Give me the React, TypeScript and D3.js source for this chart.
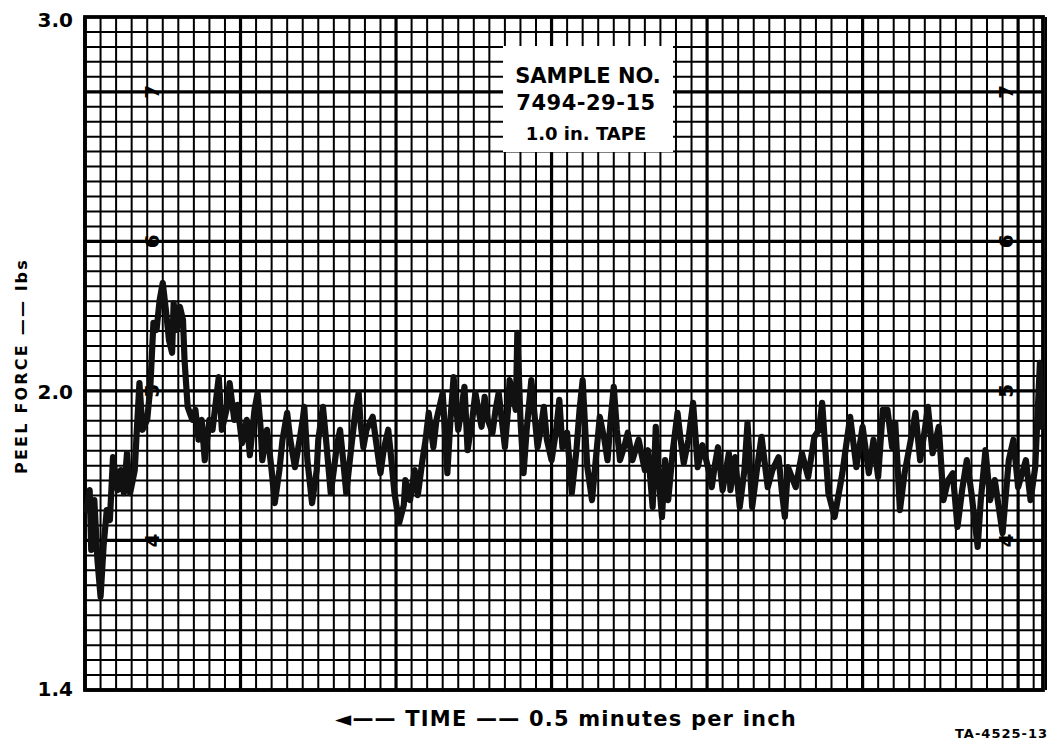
import * as d3 from "d3";
import { ReactElement } from "react";

// chart paper: time in tenths of an inch (0.5 min per inch), force in lbs
const traceTime = [
  0.1, 0.3, 0.4, 0.6, 0.8, 1.0, 1.2, 1.4, 1.6, 1.8,
  2.1, 2.3, 2.5, 2.7, 2.9, 3.2, 3.3, 3.5, 3.7, 4.0,
  4.2, 4.4, 4.6, 4.8, 5.0, 5.2, 5.4, 5.6, 5.7, 5.9,
  6.1, 6.3, 6.4, 6.6, 6.9, 7.1, 7.3, 7.5, 7.7, 8.0,
  8.2, 8.6, 8.8, 9.1, 9.3, 9.6, 9.8, 10.1, 10.4, 10.6,
  10.9, 11.1, 11.3, 11.4, 11.7, 12.0, 12.2, 12.5, 12.7, 13.0,
  13.2, 13.5, 13.8, 14.0, 14.1, 14.3, 14.6, 14.9, 15.0, 15.3,
  15.5, 15.8, 16.0, 16.2, 16.4, 16.6, 16.8, 17.1, 17.4, 17.6,
  17.7, 17.9, 18.1, 18.5, 18.7, 19.0, 19.2, 19.5, 19.7, 19.9,
  20.2, 20.5, 20.6, 20.9, 21.2, 21.4, 21.7, 21.9, 22.1, 22.4,
  22.6, 23.0, 23.3, 23.5, 23.7, 24.0, 24.2, 24.4, 24.6, 24.9,
  25.1, 25.3, 25.5, 25.7, 25.9, 26.2, 26.4, 26.6, 26.8, 27.0,
  27.2, 27.3, 27.7, 27.8, 28.0, 28.2, 28.4, 28.7, 29.1, 29.3,
  29.5, 29.7, 30.0, 30.3, 30.5, 30.7, 31.0, 31.3, 31.6, 31.8,
  32.0, 32.2, 32.3, 32.6, 32.9, 33.1, 33.4, 33.6, 33.8, 34.0,
  34.2, 34.4, 34.7, 34.9, 35.2, 35.6, 35.8, 36.0, 36.2, 36.5,
  36.7, 36.9, 37.1, 37.3, 37.5, 37.8, 38.1, 38.3, 38.5, 38.8,
  39.1, 39.4, 39.7, 39.9, 40.1, 40.3, 40.5, 40.7, 41.0, 41.4,
  41.5, 41.8, 42.1, 42.4, 42.6, 42.9, 43.2, 43.5, 43.9, 44.2,
  44.6, 44.8, 45.0, 45.2, 45.7, 46.1, 46.5, 46.9, 47.2, 47.4,
  47.8, 48.2, 48.7, 48.9, 49.2, 49.6, 50.0, 50.4, 50.7, 51.0,
  51.3, 51.6, 51.9, 52.1, 52.4, 52.7, 53.1, 53.4, 53.7, 54.0,
  54.2, 54.5, 54.9, 55.2, 55.5, 55.8, 56.1, 56.4, 56.7, 57.0,
  57.4, 57.6, 57.9, 58.2, 58.5, 59.0, 59.4, 59.7, 60.0, 60.5,
  60.8, 61.1, 61.4, 61.5,
];

const peelForce = [
  1.761, 1.801, 1.681, 1.781, 1.661, 1.587, 1.691, 1.761, 1.741, 1.867,
  1.801, 1.841, 1.795, 1.875, 1.795, 1.841, 1.902, 2.021, 1.922, 1.942,
  2.011, 2.182, 2.163, 2.243, 2.289, 2.217, 2.136, 2.102, 2.235, 2.163,
  2.225, 2.19, 2.083, 1.968, 1.942, 1.962, 1.902, 1.942, 1.861, 1.942,
  1.922, 2.037, 1.922, 1.962, 2.021, 1.942, 1.972, 1.895, 1.942, 1.871,
  1.962, 1.996, 1.922, 1.861, 1.922, 1.841, 1.775, 1.841, 1.902, 1.956,
  1.902, 1.847, 1.902, 1.942, 1.968, 1.861, 1.775, 1.841, 1.902, 1.968,
  1.902, 1.795, 1.841, 1.891, 1.922, 1.861, 1.795, 1.881, 1.962, 1.996,
  1.942, 1.887, 1.922, 1.948, 1.902, 1.835, 1.881, 1.922, 1.861, 1.795,
  1.735, 1.771, 1.821, 1.781, 1.841, 1.791, 1.861, 1.902, 1.956, 1.887,
  1.942, 1.996, 1.835, 1.942, 2.037, 1.922, 1.962, 2.011, 1.881, 1.942,
  1.996, 1.962, 1.928, 1.988, 1.942, 1.916, 1.962, 1.996, 1.942, 1.887,
  1.962, 2.029, 1.962, 2.155, 1.942, 1.835, 1.922, 2.029, 1.887, 1.922,
  1.968, 1.902, 1.861, 1.922, 1.982, 1.887, 1.916, 1.795, 1.881, 1.962,
  2.029, 1.902, 1.847, 1.781, 1.881, 1.948, 1.902, 1.861, 1.942, 2.011,
  1.922, 1.861, 1.891, 1.916, 1.861, 1.902, 1.871, 1.841, 1.881, 1.767,
  1.928, 1.821, 1.747, 1.861, 1.781, 1.881, 1.956, 1.902, 1.855, 1.902,
  1.976, 1.847, 1.891, 1.867, 1.841, 1.807, 1.851, 1.887, 1.801, 1.875,
  1.801, 1.867, 1.767, 1.841, 1.936, 1.767, 1.841, 1.908, 1.807, 1.841,
  1.867, 1.801, 1.747, 1.847, 1.807, 1.875, 1.827, 1.908, 1.922, 1.976,
  1.795, 1.747, 1.835, 1.881, 1.948, 1.847, 1.928, 1.835, 1.902, 1.827,
  1.962, 1.962, 1.887, 1.936, 1.761, 1.835, 1.902, 1.956, 1.861, 1.922,
  1.968, 1.875, 1.928, 1.781, 1.821, 1.835, 1.727, 1.801, 1.861, 1.795,
  1.687, 1.781, 1.881, 1.781, 1.821, 1.715, 1.861, 1.902, 1.807, 1.861,
  1.781, 1.847, 2.075, 1.928,
];

// labelled force values on the left
const forceTicks = [3.0, 2.0, 1.4];
// numbers printed on the chart paper itself
const paperNumbers = [4, 5, 6, 7];
const sampleLines = ["SAMPLE  NO.", "7494-29-15", "1.0 in.  TAPE"];

const W = 1054;
const H = 745;
const FONT = "'DejaVu Sans', sans-serif";

const App = (): ReactElement => {
  const left = 85, right = 1043, top = 17, bottom = 690;

  const x = d3.scaleLinear().domain([0, 61.6]).range([left, right]);
  const paperY = d3.scaleLinear().domain([3, 7.5]).range([bottom, top]);
  // force scale is tied to the paper divisions (not uniform above/below 2.0)
  const y = d3.scaleLinear()
    .domain([1.4, 2.0, 3.0])
    .range([paperY(3), paperY(5), paperY(7.5)]);

  const cols = d3.range(0, 62);
  const rows = d3.range(30, 76).map((d) => d / 10);

  const pts: [number, number][] = traceTime.map((t, i) => [t, peelForce[i]]);
  const line = d3.line<[number, number]>()
    .x((d) => x(d[0]))
    .y((d) => y(d[1]));

  return (
    <svg width={W} height={H} style={{ position: "absolute", left: 0, top: 0, background: "#fff" }}>
      <rect width={W} height={H} fill="#fff" />

      {/* grid */}
      <g stroke="#000">
        {cols.map((c) => (
          <line key={"c" + c} x1={x(c)} x2={x(c)} y1={top} y2={bottom}
            strokeWidth={c % 10 === 0 ? 3.2 : 2} />
        ))}
        {rows.map((r) => (
          <line key={"r" + r} x1={left} x2={right} y1={paperY(r)} y2={paperY(r)}
            strokeWidth={Math.abs(r - Math.round(r)) < 1e-6 ? 3.2 : 2} />
        ))}
        <rect x={left} y={top} width={right - left} height={bottom - top} fill="none" strokeWidth={3.8} />
        <line x1={right + 3} x2={right + 3} y1={top} y2={bottom} strokeWidth={2} />
      </g>

      {/* numbers on the paper */}
      <g fontFamily={FONT} fontWeight="bold" fontSize={20} fill="#000">
        {paperNumbers.map((n) => (
          <g key={"p" + n}>
            <text transform={`translate(${x(4.3) + 7},${paperY(n)}) rotate(-90)`}
              textAnchor="middle">{n}</text>
            <text transform={`translate(${x(59.2) + 7},${paperY(n)}) rotate(-90)`}
              textAnchor="middle">{n}</text>
          </g>
        ))}
      </g>

      {/* sample label box */}
      <rect x={503} y={46} width={170} height={106} fill="#fff" />
      <g fontFamily={FONT} fontWeight="bold" fill="#000" textAnchor="middle">
        <text x={588} y={83} fontSize={21}>{sampleLines[0]}</text>
        <text x={586} y={110} fontSize={21} letterSpacing={0.5}>{sampleLines[1]}</text>
        <text x={586} y={140} fontSize={18}>{sampleLines[2]}</text>
      </g>

      {/* trace */}
      <path d={line(pts) ?? ""} fill="none" stroke="#111" strokeWidth={6.2}
        strokeLinejoin="round" strokeLinecap="round" />

      {/* force labels */}
      <g fontFamily={FONT} fontWeight="bold" fontSize={20} fill="#000" textAnchor="end">
        {forceTicks.map((v) => (
          <text key={"f" + v} x={73} y={Math.min(y(v) + 8, 696)}
            dy={v === 3.0 ? 2 : 0}>{d3.format(".1f")(v)}</text>
        ))}
      </g>

      {/* axis titles */}
      <text transform={`translate(27,${366}) rotate(-90)`} textAnchor="middle"
        fontFamily={FONT} fontWeight="bold" fontSize={16} letterSpacing={2.2}>
        PEEL FORCE —— lbs
      </text>
      <text x={797} y={726} textAnchor="end" fontFamily={FONT} fontWeight="bold" fontSize={21}
        letterSpacing={1.2}>
        ◄—— TIME —— 0.5 minutes per inch
      </text>
      <text x={1048} y={738} textAnchor="end" fontFamily={FONT} fontWeight="bold" fontSize={13}
        letterSpacing={1}>
        TA-4525-13
      </text>
    </svg>
  );
};

export default App;
